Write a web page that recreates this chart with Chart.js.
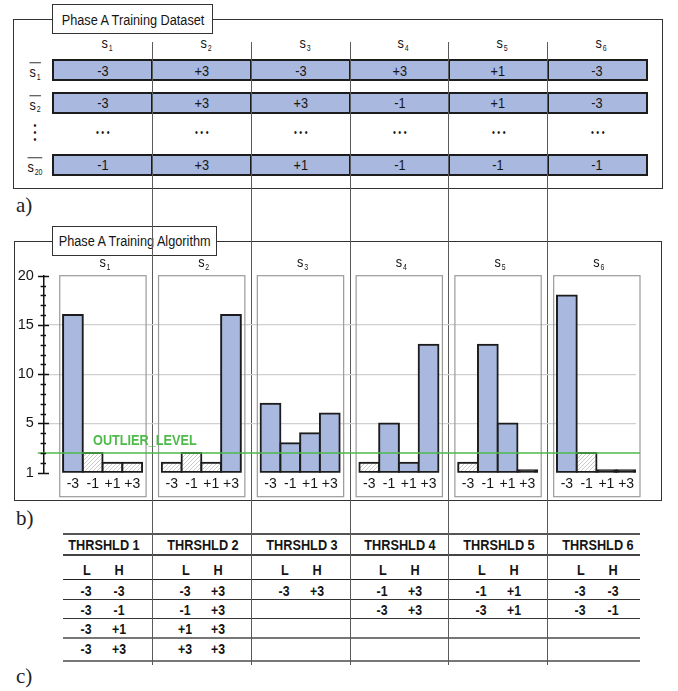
<!DOCTYPE html>
<html><head><meta charset="utf-8">
<script src="https://cdn.jsdelivr.net/npm/chart.js@4.4.1/dist/chart.umd.min.js"></script>
<style>
html,body{margin:0;padding:0;background:#fff;}
#fig{position:relative;width:678px;height:691px;overflow:hidden;font-family:'Liberation Sans',Arial,sans-serif;color:#151515;}
.abs{position:absolute;box-sizing:border-box;}
.box{position:absolute;box-sizing:border-box;display:flex;align-items:center;justify-content:center;overflow:visible;}
.t{position:absolute;transform:translate(-50%,-50%) scaleX(0.82);white-space:nowrap;line-height:1;}
.nar{display:inline-block;transform:scaleX(0.82);white-space:nowrap;flex:none;line-height:1;}
.sub{font-size:0.55em;position:relative;top:0.3em;margin-left:1px;}
.lbl{position:absolute;font-family:'Liberation Serif','Times New Roman',serif;font-size:21px;line-height:21px;color:#222;}
</style></head>
<body><div id="fig"><canvas id="c" width="678" height="691" style="position:absolute;left:0;top:0;"></canvas></div>
<script>
// ---------------- DATA ----------------
const sensorNames = ['s', 's', 's', 's', 's', 's'];
const sensorSubs = ['1', '2', '3', '4', '5', '6'];
const levelLabels = ['-3', '-1', '+1', '+3'];
// Phase A training dataset (sample rows shown)
const sampleLabels = [['s', '1'], ['s', '2'], ['s', '20']];
const sample1 = ['-3', '+3', '-3', '+3', '+1', '-3'];
const sample2 = ['-3', '+3', '+3', '-1', '+1', '-3'];
const sample20 = ['-1', '+3', '+1', '-1', '-1', '-1'];
// Phase A training algorithm: histogram counts per level
const countsS1 = [16, 2, 1, 1];
const countsS2 = [1, 2, 1, 16];
const countsS3 = [7, 3, 4, 6];
const countsS4 = [1, 5, 1, 13];
const countsS5 = [1, 13, 5, 0];
const countsS6 = [18, 2, 0, 0];
const OUTLIER_LEVEL = 2;
const yTickValues = [0, 5, 10, 15, 20];
const yTickLabels = ['1', '5', '10', '15', '20'];
// Thresholds (L, H)
const thrNames = ['THRSHLD 1', 'THRSHLD 2', 'THRSHLD 3', 'THRSHLD 4', 'THRSHLD 5', 'THRSHLD 6'];
const thr1 = [['-3', '-3'], ['-3', '-1'], ['-3', '+1'], ['-3', '+3']];
const thr2 = [['-3', '+3'], ['-1', '+3'], ['+1', '+3'], ['+3', '+3']];
const thr3 = [['-3', '+3']];
const thr4 = [['-1', '+3'], ['-3', '+3']];
const thr5 = [['-1', '+1'], ['-3', '+1']];
const thr6 = [['-3', '-3'], ['-3', '-1']];

// ---------------- STYLE ----------------
const FONT = "'Liberation Sans',Arial,sans-serif";
const NARROW = 0.82;
const BLUE = '#a9b8de';
const INK = '#1c1c1c';
const GREEN = '#4dba4a';

const fig = document.getElementById('fig');
const canvas = document.getElementById('c');
function el(cls, css, html, before) {
  const d = document.createElement('div');
  d.className = cls;
  Object.assign(d.style, css);
  if (html !== undefined) d.innerHTML = html;
  if (before) fig.insertBefore(d, canvas); else fig.appendChild(d);
  return d;
}
function txt(str, cx, cy, size, extra) {
  return el('t', Object.assign({ left: cx + 'px', top: cy + 'px', fontSize: size + 'px' }, extra || {}), str, true);
}
function subHtml(a, b) { return a + '<span class="sub">' + b + '</span>'; }
function nar(s) { return '<span class="nar">' + s + '</span>'; }

// ---------- a) dataset ----------
const colX0 = 53.3, colW = 98.9;
el('abs', { left: '13px', top: '19px', width: '650px', height: '169.5px', border: '1.5px solid #333' }, '', true);
el('box', { left: '52.3px', top: '4.3px', width: '161px', height: '30px', border: '1.3px solid #333', background: '#fff',
  fontSize: '15.5px' }, nar('Phase A Training Dataset'), true);
sensorNames.forEach((s, k) => txt(subHtml(s, sensorSubs[k]), colX0 + (k + 0.5) * colW + 4, 43, 15.5));
const sampleRows = [sample1, sample2, sample20];
const rowTops = [59.3, 91.7, 154], rowH = 22;
sampleRows.forEach((row, r) => {
  row.forEach((v, k) => {
    el('box', { left: (colX0 - 1 + k * colW) + 'px', top: rowTops[r] + 'px', width: (colW + 2) + 'px', height: rowH + 'px',
      border: '2px solid ' + INK, background: BLUE, fontSize: '15.5px' }, nar(v), true);
  });
  const lab = sampleLabels[r];
  txt('<span style="border-top:1.2px solid #333;padding-top:1px;display:inline-block;line-height:1">' + subHtml(lab[0], lab[1]) + '</span>',
    35, rowTops[r] + rowH / 2 + 1, 15.5);
});
sensorNames.forEach((s, k) => txt('<span style="letter-spacing:3px">&#8226;&#8226;&#8226;</span>', colX0 + (k + 0.5) * colW + 1.5, 132.7, 10));
[126, 133.3, 140].forEach(yy => txt('&#8226;', 35, yy, 10));
el('lbl', { left: '16px', top: (213 - 17.6) + 'px' }, 'a)', true);

// ---------- b) frame ----------
el('abs', { left: '14px', top: '241px', width: '648px', height: '260px', border: '1.5px solid #333' }, '', true);
el('box', { left: '52.3px', top: '226px', width: '165px', height: '29.5px', border: '1.3px solid #333', background: '#fff',
  fontSize: '15.5px' }, nar('Phase A Training Algorithm'), true);
el('lbl', { left: '16px', top: (526 - 17.6) + 'px' }, 'b)', true);

// ---------- c) thresholds ----------
const tLeft = 63.3, tRight = 640;
function hline(y, w, c) {
  el('abs', { left: tLeft + 'px', top: (y - w / 2) + 'px', width: (tRight - tLeft) + 'px', height: w + 'px', background: c }, '', true);
}
hline(534, 2.2, '#555');
hline(555, 2, '#444');
hline(579.3, 1.3, '#222');
hline(599.3, 1.3, '#333');
hline(618.7, 1.3, '#333');
hline(638, 1.3, '#777');
hline(660.7, 2.2, '#777');
const thrLists = [thr1, thr2, thr3, thr4, thr5, thr6];
const rowCY = [590, 609.3, 628.3, 648.3];
thrNames.forEach((n, k) => {
  const cx = colX0 + (k + 0.5) * colW;
  txt(n, cx + 1, 545, 15.5, { fontWeight: 'bold' });
  txt('L', cx - 16, 570, 15.5, { fontWeight: 'bold' });
  txt('H', cx + 16, 570, 15.5, { fontWeight: 'bold' });
  thrLists[k].forEach((p, r) => {
    txt(p[0], cx - 17, rowCY[r], 15, { fontWeight: 'bold' });
    txt(p[1], cx + 16, rowCY[r], 15, { fontWeight: 'bold' });
  });
});
el('lbl', { left: '16px', top: (684 - 17.6) + 'px' }, 'c)', true);

// ---------- global column separators (under the chart canvas) ----------
for (let k = 1; k < 6; k++) {
  el('abs', { left: (colX0 + k * colW - 0.5) + 'px', top: '41.7px', width: '1px', height: (665 - 41.7) + 'px', background: '#5a5a5a' }, '', true);
}

// ---------------- CHART (b) ----------------
const allCounts = [countsS1, countsS2, countsS3, countsS4, countsS5, countsS6];
const SLOTS_PER_GROUP = 5;
const nSlots = allCounts.length * SLOTS_PER_GROUP;
const slotIndex = (g, j) => 1 + g * SLOTS_PER_GROUP + j;

function makeHatch() {
  const c = document.createElement('canvas'); c.width = 4; c.height = 4;
  const g = c.getContext('2d');
  g.fillStyle = '#fff'; g.fillRect(0, 0, 4, 4);
  g.strokeStyle = '#b4b4b4'; g.lineWidth = 0.7;
  g.beginPath();
  g.moveTo(0, 4); g.lineTo(4, 0);
  g.moveTo(-1, 1); g.lineTo(1, -1);
  g.moveTo(3, 5); g.lineTo(5, 3);
  g.stroke();
  return g.createPattern(c, 'repeat');
}
const HATCH = makeHatch();

const slotLabels = new Array(nSlots).fill('');
const slotData = new Array(nSlots).fill(null);
const slotColors = new Array(nSlots).fill('rgba(0,0,0,0)');
allCounts.forEach((counts, g) => {
  const above = counts.map((c, j) => c > OUTLIER_LEVEL ? j : -1).filter(j => j >= 0);
  const lo = Math.min(...above), hi = Math.max(...above);
  counts.forEach((c, j) => {
    const i = slotIndex(g, j);
    slotLabels[i] = levelLabels[j];
    slotData[i] = c;
    slotColors[i] = c === 0 ? INK : (j >= lo && j <= hi ? BLUE : HATCH);
  });
});

function narrowText(ctx, str, x, y, align) {
  ctx.save();
  ctx.translate(x, y);
  ctx.scale(NARROW, 1);
  ctx.textAlign = align || 'center';
  ctx.fillText(str, 0, 0);
  ctx.restore();
}
function drawSub(ctx, a, b, cx, cy, size) {
  ctx.save();
  ctx.fillStyle = '#151515';
  ctx.textBaseline = 'middle';
  ctx.translate(cx, cy);
  ctx.scale(NARROW, 1);
  ctx.font = size + 'px ' + FONT;
  const wa = ctx.measureText(a).width;
  ctx.font = (size * 0.55) + 'px ' + FONT;
  const wb = ctx.measureText(b).width;
  const x0 = -(wa + wb + 1) / 2;
  ctx.font = size + 'px ' + FONT;
  ctx.textAlign = 'left';
  ctx.fillText(a, x0, 0);
  ctx.font = (size * 0.55) + 'px ' + FONT;
  ctx.fillText(b, x0 + wa + 1, size * 0.3);
  ctx.restore();
}

const figPlugin = {
  id: 'figPlugin',
  beforeDatasetsDraw(chart) {
    const { ctx, scales: { x, y } } = chart;
    const slot = x.getPixelForValue(1) - x.getPixelForValue(0);
    const top = y.getPixelForValue(20), base = y.getPixelForValue(0);
    ctx.save();
    allCounts.forEach((counts, g) => {
      const left = x.getPixelForValue(slotIndex(g, 0)) - slot / 2 - 3.3;
      const right = x.getPixelForValue(slotIndex(g, counts.length - 1)) + slot / 2 + 4;
      ctx.strokeStyle = '#9a9a9a'; ctx.lineWidth = 1.2;
      ctx.strokeRect(left, top, right - left, base + 24 - top);
      drawSub(ctx, sensorNames[g], sensorSubs[g], (left + right) / 2 + 2, top - 12.5, 15.5);
    });
    ctx.restore();
  },
  afterDatasetsDraw(chart) {
    const { ctx, chartArea, scales: { x, y } } = chart;
    const yy = y.getPixelForValue(OUTLIER_LEVEL);
    const slot = x.getPixelForValue(1) - x.getPixelForValue(0);
    const right = x.getPixelForValue(nSlots - 1) + slot / 2 + 4;
    ctx.save();
    ctx.strokeStyle = GREEN; ctx.lineWidth = 1.5;
    ctx.beginPath(); ctx.moveTo(chartArea.left - 5.5, yy); ctx.lineTo(right, yy); ctx.stroke();
    ctx.fillStyle = GREEN;
    ctx.font = 'bold 15.5px ' + FONT;
    ctx.textBaseline = 'alphabetic';
    narrowText(ctx, 'OUTLIER_LEVEL', x.getPixelForValue(2) + 0.3, yy - 8, 'left');
    ctx.restore();
  },
  afterDraw(chart) {
    const { ctx, chartArea, scales: { y } } = chart;
    const ax = chartArea.left;
    ctx.save();
    ctx.strokeStyle = '#111'; ctx.lineWidth = 1.3;
    ctx.beginPath();
    for (let v = y.min; v <= y.max; v++) {
      const py = Math.round(y.getPixelForValue(v)) + 0.5;
      const major = v % 5 === 0;
      ctx.moveTo(ax - (major ? 5.3 : 2.7), py);
      ctx.lineTo(ax + (major ? 5.7 : 2.7), py);
    }
    ctx.stroke();
    ctx.restore();
  }
};

const BASE_Y = 472.7, CA_LEFT = 43.3, CA_RIGHT = 636, CA_TOP = 275.7, X_AXIS_H = 24;
new Chart(canvas, {
  type: 'bar',
  data: {
    labels: slotLabels,
    datasets: [{
      data: slotData,
      backgroundColor: slotColors,
      borderColor: INK,
      borderWidth: 2,
      borderSkipped: false,
      inflateAmount: 1,
      minBarLength: 2.5,
      categoryPercentage: 1,
      barPercentage: 1
    }]
  },
  options: {
    responsive: false,
    animation: false,
    layout: { autoPadding: false, padding: { left: 0, top: CA_TOP, right: 678 - CA_RIGHT, bottom: 691 - BASE_Y - X_AXIS_H } },
    plugins: { legend: { display: false }, tooltip: { enabled: false } },
    scales: {
      x: {
        type: 'category',
        grid: { display: false, drawTicks: false },
        border: { display: false },
        ticks: { autoSkip: false, maxRotation: 0, minRotation: 0, padding: 3, color: '#151515', font: { family: FONT, size: 14 } },
        afterFit(s) { s.height = X_AXIS_H; }
      },
      y: {
        min: 0, max: 20,
        afterBuildTicks(s) { s.ticks = yTickValues.map(v => ({ value: v })); },
        ticks: { padding: 9.5, color: '#151515', font: { family: FONT, size: 14.5 },
          callback(v) { return yTickLabels[yTickValues.indexOf(v)]; } },
        grid: { drawTicks: false, lineWidth: 1.2,
          color(ctx) { const v = ctx.tick && ctx.tick.value; return (v > 0 && v < 20) ? '#d0d0d0' : 'rgba(0,0,0,0)'; } },
        border: { display: true, color: '#111', width: 1.5 },
        afterFit(s) { s.width = CA_LEFT; }
      }
    }
  },
  plugins: [figPlugin]
});
</script>
</body></html>
